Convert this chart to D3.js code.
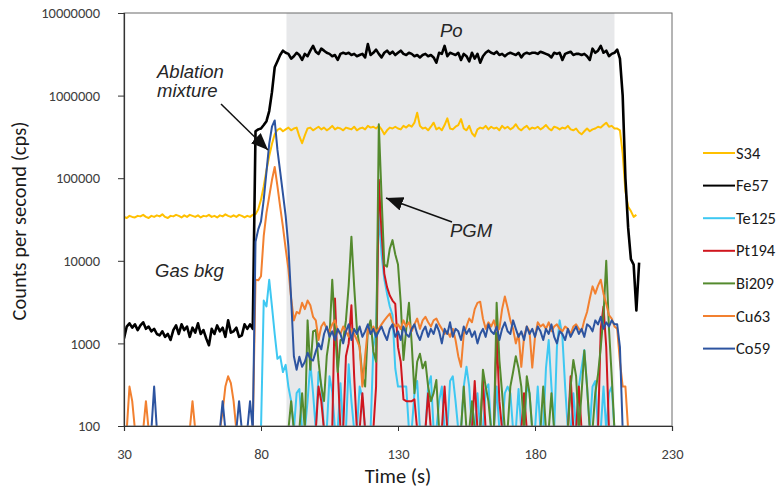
<!DOCTYPE html>
<html><head><meta charset="utf-8">
<script src="https://cdn.jsdelivr.net/npm/d3@7"></script>
<style>body{margin:0;background:#fff}</style>
</head><body>
<svg id="chart" width="784" height="490"></svg>
<script>
// ---------------- DATA ----------------
const seriesNames = ["S34","Fe57","Te125","Pt194","Bi209","Cu63","Co59"];
const seriesColors = ["#FFC000","#000000","#3EC8F2","#D0161E","#548A2E","#F28030","#2D54A0"];
const xTickValues = [30, 80, 130, 180, 230];
const yTickValues = [100, 1000, 10000, 100000, 1000000, 10000000];
const timeStart = 30, timeEnd = 218;       // seconds, 1 s sweep
const time = d3.range(timeStart, timeEnd + 1);

const S34 = [
34000,33000,35000,34000,33500,35000,34500,36000,34000,33000,
35000,34000,35500,34500,36500,34000,33000,35000,34500,36000,
35000,33500,35500,34000,36000,35000,34000,35500,33500,35000,
34500,36000,34000,35000,33500,35500,34500,36500,35000,34000,
35500,34000,36000,35000,33500,35000,34000,36000,36500,42000,
55000,80000,125000,185000,260000,340000,385000,400000,370000,390000,
410000,380000,400000,410000,320000,265000,330000,400000,410000,380000,
400000,420000,390000,410000,380000,400000,430000,390000,410000,400000,
380000,410000,400000,390000,420000,380000,400000,410000,390000,430000,
410000,420000,400000,430000,390000,340000,380000,410000,400000,420000,
400000,390000,430000,410000,440000,420000,470000,620000,430000,400000,
410000,380000,420000,470000,390000,410000,380000,440000,530000,400000,
390000,420000,440000,520000,400000,380000,430000,350000,320000,390000,
410000,400000,430000,390000,420000,400000,410000,380000,430000,400000,
420000,390000,410000,450000,400000,380000,410000,430000,390000,410000,
400000,420000,390000,410000,440000,400000,380000,420000,410000,390000,
410000,400000,430000,390000,380000,400000,360000,340000,370000,400000,
370000,390000,400000,420000,410000,440000,470000,420000,430000,400000,
400000,380000,200000,70000,45000,40000,34000,36000,null];

const Fe57 = [
1150,1600,1750,1550,1700,1450,1650,1800,1500,1600,
1400,1500,1300,1250,1400,1200,1300,1100,1450,1650,
1300,1700,1450,1600,1200,1550,1350,1750,1300,1450,
1150,950,1500,1300,1650,1400,1550,1200,1900,1350,
1400,1550,1200,1250,1700,1500,1700,1500,370000,390000,
400000,440000,490000,650000,1100000,2200000,2600000,3100000,3500000,3300000,
3200000,2800000,3000000,3300000,3100000,2700000,3200000,3000000,3500000,4000000,
3400000,3200000,3700000,3500000,3300000,3200000,3000000,3100000,2700000,3200000,
3300000,3200000,3300000,3100000,3200000,3000000,3100000,3200000,2900000,4200000,
3100000,3300000,3600000,3200000,2900000,3300000,3500000,3200000,3400000,3100000,
3300000,3500000,3200000,3100000,3300000,3200000,3000000,3100000,2900000,3100000,
3200000,3000000,3100000,2900000,2500000,3300000,3200000,4000000,3000000,3300000,
3200000,3100000,3300000,2700000,3200000,3000000,2600000,3300000,2800000,3200000,
2500000,3000000,3300000,3500000,3300000,3200000,3400000,3100000,3200000,3000000,
3200000,3300000,3200000,3100000,3300000,2900000,3200000,3300000,3200000,3300000,
3300000,3200000,3400000,3300000,3200000,3100000,2900000,3300000,3200000,3300000,
2700000,3200000,3300000,3400000,3100000,3200000,3200000,3100000,3200000,3000000,
2700000,3700000,3300000,3500000,4000000,3300000,3500000,3000000,3200000,3300000,
3600000,2800000,1000000,100000,25000,10500,9000,2500,9500];

const Te125 = [
0,0,0,0,0,0,0,0,0,0,
0,0,0,0,0,0,0,0,0,0,
0,0,0,0,0,0,0,0,0,0,
0,0,0,0,0,0,0,0,0,0,
0,0,0,0,0,0,0,0,0,0,
0,3300,2800,5900,2800,1300,650,700,450,550,
300,200,0,250,280,0,0,200,580,250,
0,450,320,0,0,400,260,0,0,330,
0,0,560,200,0,0,300,220,0,0,
0,900,1500,40000,12000,6000,4000,2800,2200,500,
300,300,300,300,0,0,250,350,0,0,
0,300,400,0,0,200,300,0,0,350,
400,200,0,0,300,520,300,0,0,250,
0,0,280,320,0,0,300,0,0,250,
300,250,0,0,280,0,0,300,250,0,
0,300,0,0,500,1100,300,0,900,1900,
1200,300,0,0,250,0,300,500,830,300,
0,300,350,0,0,300,0,250,300,0,
0,0,0,0,0,0,0,0,0];

const Pt194 = [
0,0,0,0,0,0,0,0,0,0,
0,0,0,0,0,0,0,0,0,0,
0,0,0,0,0,0,0,0,0,0,
0,0,0,0,0,0,0,0,0,0,
0,0,0,0,0,0,0,0,0,0,
0,0,0,0,0,0,0,0,0,0,
0,0,0,0,0,0,0,0,0,0,
0,300,200,0,0,0,0,3500,500,0,
0,700,1000,2900,400,0,0,250,0,0,
0,0,300,96000,22000,7000,4800,3800,3300,3000,
900,600,210,200,200,200,210,0,0,0,
0,250,0,0,0,0,0,300,0,0,
0,0,0,0,0,0,0,0,350,0,
0,360,0,0,0,0,1300,200,0,0,
0,0,0,0,0,0,250,0,0,0,
0,0,0,0,0,0,0,0,0,0,
0,0,0,400,0,0,300,0,0,0,
0,0,0,0,1500,2800,900,0,0,0,
0,0,0,0,0,0,0,0,0];

const Bi209 = [
0,0,0,0,0,0,0,0,0,0,
0,0,0,0,0,0,0,0,0,0,
0,0,0,0,0,0,0,0,0,0,
0,0,0,0,0,0,0,0,0,0,
0,0,0,0,0,0,0,0,0,0,
0,0,0,0,0,0,0,0,0,0,
0,200,0,0,0,250,0,1900,480,1400,
1450,600,300,200,700,1200,5900,1500,450,1100,
1100,1900,5000,19600,4900,1500,900,400,300,1500,
1900,800,600,450000,60000,9000,8500,14000,17800,12000,
9000,3100,630,1500,3100,1000,250,600,750,500,
600,300,200,250,360,0,0,0,0,0,
0,0,0,0,300,0,0,200,0,0,
0,480,300,200,0,0,3100,630,250,0,
0,300,450,700,500,300,0,400,250,0,
0,0,0,300,0,0,250,0,0,0,
0,0,0,300,630,400,0,250,820,300,
0,0,250,420,900,2200,10000,1500,400,0,
0,0,0,0,0,0,0,0,0];

const Cu63 = [
0,0,300,200,0,0,0,0,200,0,
0,0,0,0,0,0,0,0,0,0,
0,0,0,0,0,200,0,0,0,0,
0,0,0,0,0,0,150,300,400,330,
200,0,0,0,0,0,0,0,5900,5800,
6500,20000,38000,60000,95000,137000,80000,45000,26000,14000,
8000,3500,1900,2400,2300,3100,2600,3300,2900,2100,
1900,1100,1600,1800,1500,1400,1700,1900,1400,1300,
1600,1400,1200,1500,1300,1100,900,300,700,1500,
1300,1600,1400,1500,1700,1900,2100,2300,1800,1600,
1700,1500,1900,1600,1800,1400,1700,2000,1500,1900,
2100,1800,1600,1900,2000,1700,1500,1300,1400,1200,
1500,1100,700,520,1300,1600,2000,1800,2600,3100,
3200,2000,1500,1800,1600,1900,1400,1500,2600,3700,
2700,1900,1500,1000,1300,520,1200,1600,1400,510,
1200,1800,1600,1700,1500,1800,1400,1600,1700,1500,
1400,1600,1500,1300,1600,1700,1500,1400,1900,2400,
3500,4900,4000,5000,5900,4000,3000,2200,2000,1600,
1500,600,300,300,0,0,0,0,0];

const Co59 = [
0,0,0,0,0,0,0,0,0,0,
0,300,0,0,0,0,0,0,0,0,
0,0,0,0,0,0,0,0,0,0,
0,0,0,0,0,0,200,0,0,0,
0,0,200,0,0,0,200,0,17000,24000,
30000,55000,120000,260000,420000,500000,220000,120000,65000,35000,
15000,3500,700,480,690,520,600,770,650,620,
800,1000,850,1300,1600,1200,1400,1100,1500,1300,
1000,1400,1700,1100,1500,1300,1600,1200,1400,1700,
1300,1500,1200,1400,1600,1300,1100,1500,1700,1200,
1400,1100,1600,1300,1200,1500,1700,1300,1100,1400,
1600,1200,1500,1300,1700,1400,1000,1500,1300,1800,
1200,1500,1400,1100,1600,1300,1500,1200,1400,1000,
1300,1500,1200,1700,1400,1300,1600,1100,1500,1800,
1400,1300,1900,1500,1200,1400,1100,1600,1300,1500,
1200,1600,1400,1100,1500,1300,1700,1200,1000,1400,
1300,1100,1500,1200,1400,1600,1300,1500,1200,1700,
1600,1400,1900,1700,2100,1500,1800,1600,1900,1700,
1700,900,0,0,0,0,0,0,0];

const shadedRegion = [89.3, 209];   // "Po" ablation window (s)
const seriesValues = [S34, Fe57, Te125, Pt194, Bi209, Cu63, Co59];

// ---------------- CHART ----------------
const svg = d3.select("#chart");
const L = 124, R = 672, T = 13, B = 426;
const x = d3.scaleLinear().domain([30, 230]).range([L, R]);
const y = d3.scaleLog().domain([100, 1e7]).range([B, T]);
const FLOOR = 90;   // zero counts drawn just below the axis, then clipped

const defs = svg.append("defs");
defs.append("clipPath").attr("id", "plotclip")
  .append("rect").attr("x", L).attr("y", T).attr("width", R - L).attr("height", B - T);
defs.append("marker").attr("id", "ah")
  .attr("viewBox", "0 0 17 14").attr("refX", 17).attr("refY", 7)
  .attr("markerWidth", 17).attr("markerHeight", 14)
  .attr("markerUnits", "userSpaceOnUse").attr("orient", "auto")
  .append("path").attr("d", "M0,0 L17,7 L0,14 Z").attr("fill", "#111");

// shaded band
svg.append("rect")
  .attr("x", x(shadedRegion[0])).attr("y", T)
  .attr("width", x(shadedRegion[1]) - x(shadedRegion[0])).attr("height", B - T)
  .attr("fill", "#E7E8EA");

// lines
const gLines = svg.append("g").attr("clip-path", "url(#plotclip)");
const line = d3.line()
  .defined(d => d.v != null)
  .x(d => x(d.t))
  .y(d => y(d.v > 0 ? d.v : FLOOR));

seriesNames.forEach((name, k) => {
  const pts = time.map((t, i) => ({t, v: seriesValues[k][i]}));
  gLines.append("path")
    .datum(pts)
    .attr("d", line)
    .attr("fill", "none")
    .attr("stroke", seriesColors[k])
    .attr("stroke-width", name === "Fe57" ? 2.6 : 2)
    .attr("stroke-linejoin", "round");
});

// frame
svg.append("rect").attr("x", L).attr("y", T).attr("width", R - L).attr("height", B - T)
  .attr("fill", "none").attr("stroke", "#6b6b6b").attr("stroke-width", 1);

// axes
const tickFont = "Carlito, Lato, sans-serif";
const xAxis = svg.append("g").attr("transform", `translate(0,${B})`)
  .call(d3.axisBottom(x).tickValues(xTickValues).tickSize(5).tickPadding(18).tickFormat(d3.format("d")));
const yAxis = svg.append("g").attr("transform", `translate(${L},0)`)
  .call(d3.axisLeft(y).tickValues(yTickValues).tickSize(6).tickPadding(18).tickFormat(d3.format("d")));
[xAxis, yAxis].forEach(g => {
  g.select(".domain").attr("stroke", "#333").attr("stroke-width", 1.2);
  g.selectAll(".tick line").attr("stroke", "#333");
  g.selectAll(".tick text").attr("font-family", tickFont).attr("font-size", 14.5).attr("fill", "#404040");
});

// axis titles
svg.append("text").attr("x", 398).attr("y", 483).attr("text-anchor", "middle")
  .attr("font-family", tickFont).attr("font-size", 20.5).attr("fill", "#1a1a1a").text("Time (s)");
svg.append("text").attr("transform", "translate(26,221) rotate(-90)").attr("text-anchor", "middle")
  .attr("font-family", tickFont).attr("font-size", 20.5).attr("fill", "#1a1a1a").text("Counts per second (cps)");

// legend
const legendY0 = 153, legendStep = 32.6;
const gLeg = svg.append("g");
seriesNames.forEach((name, k) => {
  const yy = legendY0 + k * legendStep;
  gLeg.append("line").attr("x1", 703).attr("x2", 735).attr("y1", yy).attr("y2", yy)
    .attr("stroke", seriesColors[k]).attr("stroke-width", 2);
  gLeg.append("text").attr("x", 736).attr("y", yy + 5.5).attr("font-family", tickFont)
    .attr("font-size", 16.5).attr("fill", "#1a1a1a").text(name);
});

// annotations
const annFont = "'Liberation Sans', Arial, sans-serif";
function ann(txt, xx, yy) {
  svg.append("text").attr("x", xx).attr("y", yy).attr("font-family", annFont)
    .attr("font-style", "italic").attr("font-size", 18.5).attr("fill", "#262626").text(txt);
}
ann("Po", 440, 37);
ann("Ablation", 157, 78);
ann("mixture", 157, 97);
ann("Gas bkg", 155, 277);
ann("PGM", 450, 237);

svg.append("line").attr("x1", 221).attr("y1", 104).attr("x2", 268).attr("y2", 150)
  .attr("stroke", "#111").attr("stroke-width", 1.5).attr("marker-end", "url(#ah)");
svg.append("line").attr("x1", 452).attr("y1", 222).attr("x2", 386).attr("y2", 198)
  .attr("stroke", "#111").attr("stroke-width", 1.5).attr("marker-end", "url(#ah)");
</script>
</body></html>
